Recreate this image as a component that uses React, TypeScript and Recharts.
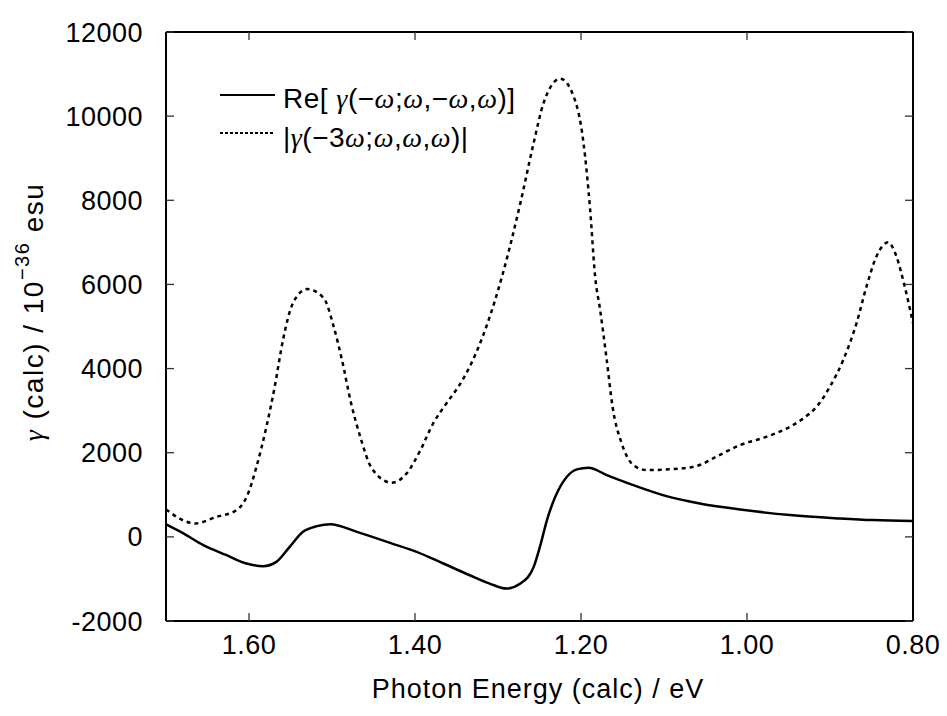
import { LineChart, Line, XAxis, YAxis, Legend } from 'recharts';

// photon energy (eV) ticks, reversed axis: 1.70 on the left, 0.80 on the right
const energyTicks = [1.6, 1.4, 1.2, 1.0, 0.8];
const gammaTicks = [-2000, 0, 2000, 4000, 6000, 8000, 10000, 12000];

// Re[γ(−ω;ω,−ω,ω)]  (solid)
const reEnergy = [
  1.7, 1.679, 1.655, 1.627, 1.603, 1.583, 1.567, 1.551, 1.535, 1.518, 1.502, 1.47, 1.43, 1.398,
  1.366, 1.334, 1.31, 1.29, 1.273, 1.257, 1.249, 1.241, 1.231, 1.217, 1.205, 1.191, 1.169, 1.137,
  1.097, 1.057, 1.008, 0.948, 0.888, 0.848, 0.8,
];
const reGamma = [
  295, 81, -198, -436, -633, -698, -595, -238, 119, 255, 302, 119, -143, -357,
  -633, -912, -1110, -1229, -1110, -714, -200, 400, 952, 1429, 1605, 1643, 1469, 1231,
  969, 795, 652, 517, 438, 398, 374,
];

// |γ(−3ω;ω,ω,ω)|  (dotted)
const thgEnergy = [
  1.7, 1.665, 1.639, 1.615, 1.601, 1.591, 1.579, 1.569, 1.559, 1.547, 1.53, 1.51, 1.498, 1.488,
  1.477, 1.466, 1.452, 1.428, 1.41, 1.394, 1.378, 1.362, 1.348, 1.334, 1.314, 1.294, 1.273,
  1.257, 1.245, 1.225, 1.209, 1.197, 1.189, 1.183, 1.177, 1.169, 1.162, 1.151, 1.137, 1.121,
  1.077, 1.057, 1.037, 1.008, 0.976, 0.948, 0.932, 0.916, 0.9, 0.884, 0.868, 0.856, 0.844,
  0.83, 0.82, 0.81, 0.8,
];
const thgGamma = [
  650, 320, 476, 636, 1033, 1667, 2619, 3571, 4683, 5557, 5890, 5676, 5000, 4207,
  3176, 2381, 1628, 1286, 1510, 2040, 2700, 3176, 3560, 4048, 5000, 6271, 7938,
  9367, 10319, 10890, 10476, 9367, 7779, 6190, 5400, 4207, 3095, 2224, 1707, 1588,
  1628, 1707, 1905, 2183, 2381, 2619, 2819, 3095, 3571, 4207, 5081, 5952, 6667,
  7000, 6667, 5952, 5081,
];

const reData = reEnergy.map((x, i) => ({ x, y: reGamma[i] }));
const thgData = thgEnergy.map((x, i) => ({ x, y: thgGamma[i] }));

const SANS = "'Liberation Sans', Arial, Helvetica, sans-serif";
const SERIF = "'Liberation Serif', 'Times New Roman', serif";

const tickStyle = { fontSize: 27, fill: '#000', fontFamily: SANS, letterSpacing: 0.5 };
const tickLineStyle = { stroke: '#333', strokeWidth: 1.3 };
const frameStyle = { stroke: '#000', strokeWidth: 2 };
// mirror axes keep their tick marks but show no labels
const noLabel = () => <g />;

const Gk = ({ c }: { c: string }) => (
  <tspan fontFamily={SERIF} fontStyle="italic">
    {c}
  </tspan>
);

function renderLegend() {
  return (
    <svg width={330} height={90} style={{ display: 'block' }}>
      <line x1={0} y1={20} x2={55} y2={20} stroke="#000" strokeWidth={2} />
      <text x={63} y={33} fontSize={28} fontFamily={SANS} fill="#000" letterSpacing={0.5}>
        Re[ <Gk c="γ" />(−<Gk c="ω" />;<Gk c="ω" />,−<Gk c="ω" />,<Gk c="ω" />)]
      </text>
      <line x1={0} y1={58} x2={55} y2={58} stroke="#000" strokeWidth={2} strokeDasharray="3 2" />
      <text x={63} y={72} fontSize={28} fontFamily={SANS} fill="#000" letterSpacing={0.5}>
        |<Gk c="γ" />(−3<Gk c="ω" />;<Gk c="ω" />,<Gk c="ω" />,<Gk c="ω" />)|
      </text>
    </svg>
  );
}

const yLabel = () => (
  <text
    x={35}
    y={304}
    transform="rotate(-90, 35, 304)"
    textAnchor="middle"
    fontSize={28}
    fontFamily={SANS}
    fill="#000"
    letterSpacing={1.5}
  >
    <Gk c="γ" />
    <tspan> (calc) / 10</tspan>
    <tspan dy={-14} fontSize={20}>
      −36
    </tspan>
    <tspan dy={14}> esu</tspan>
  </text>
);

const xLabel = () => (
  <text x={530} y={690} textAnchor="middle" fontSize={27} fontFamily={SANS} fill="#000" letterSpacing={1}>
    Photon Energy (calc) / eV
  </text>
);

export default function App() {
  return (
    <div style={{ width: 931, height: 700 }}>
      <LineChart width={931} height={700} margin={{ top: 23, right: 25, bottom: 10, left: 78 }}>
        <XAxis
          xAxisId={0}
          dataKey="x"
          type="number"
          reversed
          domain={[0.8, 1.7]}
          allowDataOverflow
          ticks={energyTicks}
          tickFormatter={(v: number) => v.toFixed(2)}
          tick={tickStyle}
          tickSize={-8}
          tickMargin={22}
          tickLine={tickLineStyle}
          axisLine={frameStyle}
          height={77}
          label={xLabel}
        />
        <XAxis
          xAxisId="top"
          orientation="top"
          dataKey="x"
          type="number"
          reversed
          domain={[0.8, 1.7]}
          allowDataOverflow
          ticks={energyTicks}
          tick={noLabel}
          tickSize={-8}
          tickLine={tickLineStyle}
          axisLine={frameStyle}
          height={1}
        />
        <YAxis
          yAxisId={0}
          type="number"
          domain={[-2000, 12000]}
          allowDataOverflow
          ticks={gammaTicks}
          tick={tickStyle}
          tickSize={-8}
          tickMargin={31}
          tickLine={tickLineStyle}
          axisLine={frameStyle}
          width={80}
          label={yLabel}
        />
        <YAxis
          yAxisId="right"
          orientation="right"
          type="number"
          domain={[-2000, 12000]}
          allowDataOverflow
          ticks={gammaTicks}
          tick={noLabel}
          tickSize={-8}
          tickLine={tickLineStyle}
          axisLine={frameStyle}
          width={1}
        />
        <Legend
          content={renderLegend}
          layout="horizontal"
          verticalAlign="middle"
          align="center"
          wrapperStyle={{ left: 212, top: 67, width: 330, height: 90 }}
        />
        <Line
          data={reData}
          dataKey="y"
          name="Re"
          type="monotone"
          stroke="#000"
          strokeWidth={2.5}
          dot={false}
          activeDot={false}
          isAnimationActive={false}
        />
        <Line
          data={thgData}
          dataKey="y"
          name="THG"
          type="monotone"
          stroke="#000"
          strokeWidth={2.5}
          strokeDasharray="4 4"
          dot={false}
          activeDot={false}
          isAnimationActive={false}
        />
      </LineChart>
    </div>
  );
}
